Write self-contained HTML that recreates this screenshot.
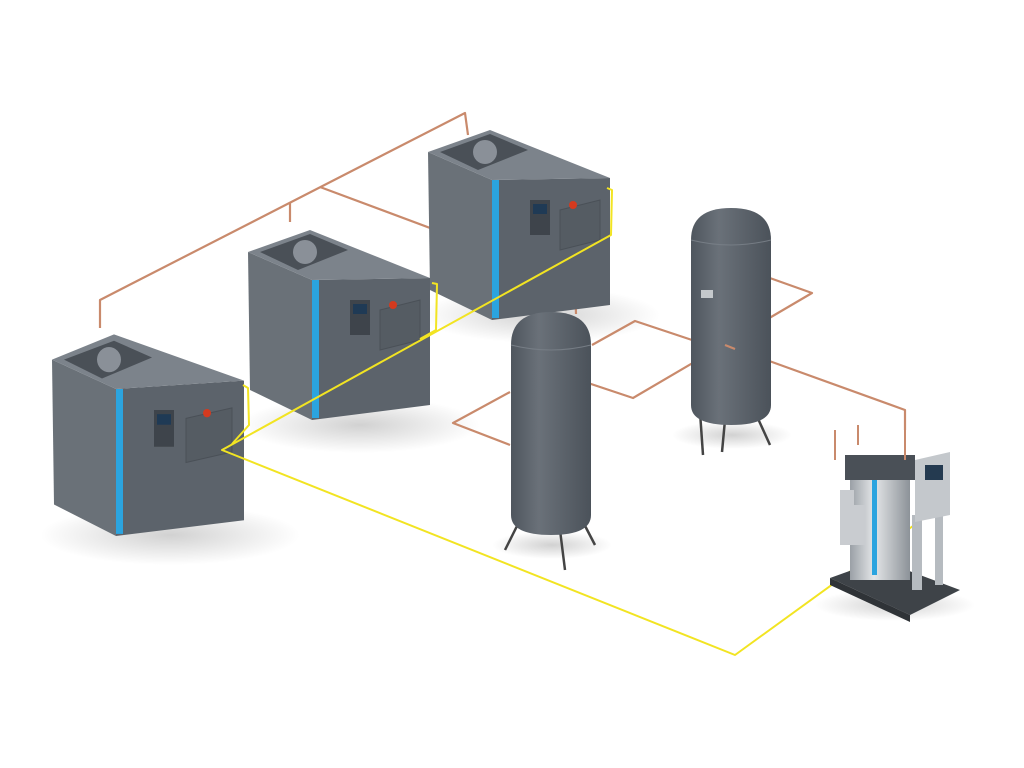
<!DOCTYPE html>
<html><head><meta charset="utf-8"><style>html,body{margin:0;padding:0;background:#fff}svg{display:block}</style></head>
<body>
<svg width="1024" height="768" viewBox="0 0 1024 768" xmlns="http://www.w3.org/2000/svg">
<defs>
<linearGradient id="tk" x1="0" x2="1"><stop offset="0" stop-color="#4f565e"/><stop offset=".35" stop-color="#6a7179"/><stop offset="1" stop-color="#4b525a"/></linearGradient>
<radialGradient id="sh"><stop offset="0" stop-color="#000" stop-opacity=".18"/><stop offset="1" stop-color="#000" stop-opacity="0"/></radialGradient>
<linearGradient id="dr" x1="0" x2="1"><stop offset="0" stop-color="#9aa0a6"/><stop offset=".4" stop-color="#e4e6e8"/><stop offset="1" stop-color="#8c9298"/></linearGradient>
</defs>
<!-- shadows -->
<ellipse cx="170" cy="535" rx="130" ry="30" fill="url(#sh)"/>
<ellipse cx="360" cy="425" rx="120" ry="28" fill="url(#sh)"/>
<ellipse cx="540" cy="315" rx="120" ry="28" fill="url(#sh)"/>
<ellipse cx="552" cy="545" rx="60" ry="14" fill="url(#sh)"/>
<ellipse cx="732" cy="435" rx="60" ry="14" fill="url(#sh)"/>
<ellipse cx="895" cy="605" rx="80" ry="16" fill="url(#sh)"/>

<g fill="none" stroke="#c98a6c" stroke-width="2.2" stroke-linejoin="round">
<polyline points="100,328 100,300 465,113 468,135"/>
<polyline points="290,222 290,203"/>
<polyline points="320,187 575,282 576,314"/>
<polyline points="510,392 453,423 510,445"/>
<polyline points="767,277 812,293 633,398 585,382"/>
<polyline points="592,345 635,321 692,340"/>
<polyline points="725,345 905,410 905,430"/>
</g>

<!-- compressor template -->
<g id="c3">
<polygon points="428,152 492,180 492,320 430,290" fill="#6a7178"/>
<polygon points="492,180 610,178 610,305 492,320" fill="#5c636b"/>
<polygon points="428,152 490,130 610,178 492,180" fill="#7c838b"/>
<polygon points="440,152 490,134 528,150 478,170" fill="#4a5057"/>
<circle cx="485" cy="152" r="12" fill="#8a9098"/>
<rect x="492" y="180" width="7" height="138" fill="#2ba4df"/>
<rect x="530" y="200" width="20" height="35" fill="#3e444b"/>
<rect x="533" y="204" width="14" height="10" fill="#1f3a55"/>
<polygon points="560,210 600,200 600,240 560,250" fill="#555c63" stroke="#4a5057"/>
<circle cx="573" cy="205" r="4" fill="#d43a1f"/>
</g>
<g transform="translate(-180,100)">
<polygon points="428,152 492,180 492,320 430,290" fill="#6a7178"/>
<polygon points="492,180 610,178 610,305 492,320" fill="#5c636b"/>
<polygon points="428,152 490,130 610,178 492,180" fill="#7c838b"/>
<polygon points="440,152 490,134 528,150 478,170" fill="#4a5057"/>
<circle cx="485" cy="152" r="12" fill="#8a9098"/>
<rect x="492" y="180" width="7" height="138" fill="#2ba4df"/>
<rect x="530" y="200" width="20" height="35" fill="#3e444b"/>
<rect x="533" y="204" width="14" height="10" fill="#1f3a55"/>
<polygon points="560,210 600,200 600,240 560,250" fill="#555c63" stroke="#4a5057"/>
<circle cx="573" cy="205" r="4" fill="#d43a1f"/>
</g>
<g transform="translate(-376,200) scale(1,1.05)">
<polygon points="428,152 492,180 492,320 430,290" fill="#6a7178"/>
<polygon points="492,180 620,172 620,305 492,320" fill="#5c636b"/>
<polygon points="428,152 490,128 620,172 492,180" fill="#7c838b"/>
<polygon points="440,152 490,134 528,150 478,170" fill="#4a5057"/>
<circle cx="485" cy="152" r="12" fill="#8a9098"/>
<rect x="492" y="180" width="7" height="138" fill="#2ba4df"/>
<rect x="530" y="200" width="20" height="35" fill="#3e444b"/>
<rect x="533" y="204" width="14" height="10" fill="#1f3a55"/>
<polygon points="562,208 608,198 608,240 562,250" fill="#555c63" stroke="#4a5057"/>
<circle cx="583" cy="203" r="4" fill="#d43a1f"/>
</g>

<!-- yellow signal -->
<g fill="none" stroke="#f2e422" stroke-width="2" stroke-linejoin="round">
<polyline points="607,188 612,190 611,235 222,450 735,655 935,510"/>
<polyline points="432,283 437,284 436,330 420,339"/>
<polyline points="243,385 248,388 249,425 232,444"/>
</g>

<!-- tanks -->
<g>
<line x1="520" y1="520" x2="505" y2="550" stroke="#444" stroke-width="2.5"/>
<line x1="582" y1="520" x2="595" y2="545" stroke="#444" stroke-width="2.5"/>
<line x1="560" y1="530" x2="565" y2="570" stroke="#444" stroke-width="2.5"/>
<path d="M511,345 Q511,312 551,312 Q591,312 591,345 L591,515 Q591,535 551,535 Q511,535 511,515 Z" fill="url(#tk)"/>
<path d="M511,345 Q551,355 591,345" fill="none" stroke="#767d85"/>
</g>
<g>
<line x1="700" y1="412" x2="703" y2="455" stroke="#444" stroke-width="2.5"/>
<line x1="755" y1="412" x2="770" y2="445" stroke="#444" stroke-width="2.5"/>
<line x1="725" y1="420" x2="722" y2="452" stroke="#444" stroke-width="2.5"/>
<path d="M691,240 Q691,208 731,208 Q771,208 771,240 L771,405 Q771,425 731,425 Q691,425 691,405 Z" fill="url(#tk)"/>
<path d="M691,240 Q731,250 771,240" fill="none" stroke="#767d85"/>
<rect x="701" y="290" width="12" height="8" fill="#c5c9cc"/>
</g>
<polyline points="725,345 735,349" stroke="#c98a6c" stroke-width="2.2"/>

<!-- dryer -->
<g>
<polygon points="830,578 880,560 960,590 910,615" fill="#3e4348"/>
<polygon points="830,578 910,615 910,622 830,585" fill="#2f3337"/>
<rect x="850" y="470" width="60" height="110" fill="url(#dr)"/>
<rect x="872" y="470" width="5" height="105" fill="#2ba4df"/>
<rect x="845" y="455" width="70" height="25" fill="#4a5057"/>
<rect x="840" y="490" width="14" height="55" fill="#c9ccd0"/>
<rect x="853" y="505" width="12" height="40" fill="#c9ccd0"/>
<rect x="912" y="515" width="10" height="75" fill="#b6bbc0"/>
<rect x="935" y="515" width="8" height="70" fill="#b6bbc0"/>
<polygon points="915,460 950,452 950,515 915,522" fill="#c4c8cc"/>
<rect x="925" y="465" width="18" height="15" fill="#243a50"/>
<g fill="none" stroke="#c98a6c" stroke-width="2">
<polyline points="835,430 835,460"/><polyline points="858,425 858,445"/><polyline points="905,430 905,460"/>
</g>
</g>
</svg>
</body></html>
